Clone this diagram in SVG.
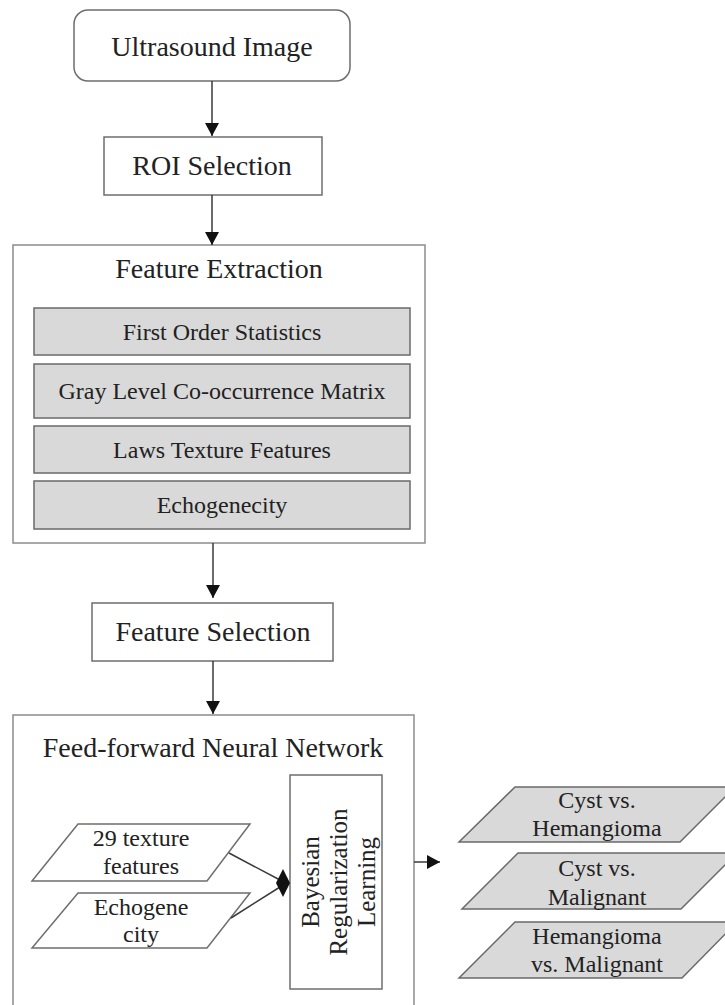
<svg xmlns="http://www.w3.org/2000/svg" width="725" height="1005" viewBox="0 0 725 1005">
<style>
text{font-family:"Liberation Serif","Times New Roman",serif;fill:#222222;text-anchor:middle}
.big{font-size:28px}
.mid{font-size:24px}
.box{fill:#ffffff;stroke:#6e6e6e;stroke-width:1.5}
.outer{fill:#ffffff;stroke:#8c8c8c;stroke-width:1.5}
.gray{fill:#d9d9d9;stroke:#6a6a6a;stroke-width:1.5}
.conn{stroke:#3a3a3a;stroke-width:1.5;fill:none}
</style>
<defs>
<marker id="arr" markerUnits="userSpaceOnUse" markerWidth="14" markerHeight="14" refX="13" refY="7" orient="auto">
<path d="M0,0 L13,7 L0,14 z" fill="#111"/>
</marker>
</defs>
<g id="ultrasound">
<rect class="box" x="74" y="10" width="276" height="71" rx="14"/>
<text class="big" x="212" y="56">Ultrasound Image</text>
</g>
<g id="roi">
<rect class="box" x="104" y="137" width="218" height="58"/>
<text class="big" x="212" y="175">ROI Selection</text>
</g>
<g id="feature-extraction">
<rect class="outer" x="13" y="245" width="412" height="298"/>
<text class="big" x="219" y="278">Feature Extraction</text>
<g id="first-order">
<rect class="gray" x="34" y="308" width="376" height="47"/>
<text class="mid" x="222" y="340">First Order Statistics</text>
</g>
<g id="glcm">
<rect class="gray" x="34" y="364" width="376" height="54"/>
<text class="mid" x="222" y="399">Gray Level Co-occurrence Matrix</text>
</g>
<g id="laws">
<rect class="gray" x="34" y="426" width="376" height="47"/>
<text class="mid" x="222" y="458">Laws Texture Features</text>
</g>
<g id="echogenecity">
<rect class="gray" x="34" y="481" width="376" height="48"/>
<text class="mid" x="222" y="513">Echogenecity</text>
</g>
</g>
<g id="feature-selection">
<rect class="box" x="92" y="603" width="241" height="58"/>
<text class="big" x="213" y="641">Feature Selection</text>
</g>
<g id="ffnn">
<rect class="outer" x="13" y="715" width="401" height="300"/>
<text class="big" x="213" y="757">Feed-forward Neural Network</text>
</g>
<g id="texture-features">
<polygon class="box" points="78,824 250,824 207,881 32,881"/>
<text class="mid" x="141" y="846">29 texture</text>
<text class="mid" x="141" y="874">features</text>
</g>
<g id="echogene-city">
<polygon class="box" points="78,893 250,893 207,948 32,948"/>
<text class="mid" x="141" y="915">Echogene</text>
<text class="mid" x="141" y="942">city</text>
</g>
<g id="bayesian">
<rect class="box" x="290" y="775" width="92" height="214"/>
<g transform="translate(333,882) rotate(-90)">
<text class="mid" x="0" y="-14" style="font-size:25px">Bayesian</text>
<text class="mid" x="0" y="14" style="font-size:25px">Regularization</text>
<text class="mid" x="0" y="42" style="font-size:25px">Learning</text>
</g>
</g>
<g id="out-cyst-hemangioma">
<polygon class="gray" points="515,787 735,787 680,842 459,842"/>
<text class="mid" x="597" y="808">Cyst vs.</text>
<text class="mid" x="597" y="836">Hemangioma</text>
</g>
<g id="out-cyst-malignant">
<polygon class="gray" points="518,853 737,853 681,909 462,909"/>
<text class="mid" x="597" y="876">Cyst vs.</text>
<text class="mid" x="597" y="905">Malignant</text>
</g>
<g id="out-hemangioma-malignant">
<polygon class="gray" points="515,922 737,922 682,978 459,978"/>
<text class="mid" x="597" y="944">Hemangioma</text>
<text class="mid" x="597" y="972">vs. Malignant</text>
</g>
<g id="connectors">
<line class="conn" x1="212" y1="81" x2="212" y2="136" marker-end="url(#arr)"/>
<line class="conn" x1="212" y1="195" x2="212" y2="245" marker-end="url(#arr)"/>
<line class="conn" x1="213" y1="543" x2="213" y2="598" marker-end="url(#arr)"/>
<line class="conn" x1="213" y1="661" x2="213" y2="714" marker-end="url(#arr)"/>
<line class="conn" x1="414" y1="862" x2="440" y2="862" marker-end="url(#arr)"/>
<line class="conn" x1="229" y1="853" x2="280" y2="880"/>
<line class="conn" x1="231" y1="918" x2="280" y2="887"/>
<polygon points="276,883 283,869 290,883 283,897" fill="#111"/>
</g>
</svg>
